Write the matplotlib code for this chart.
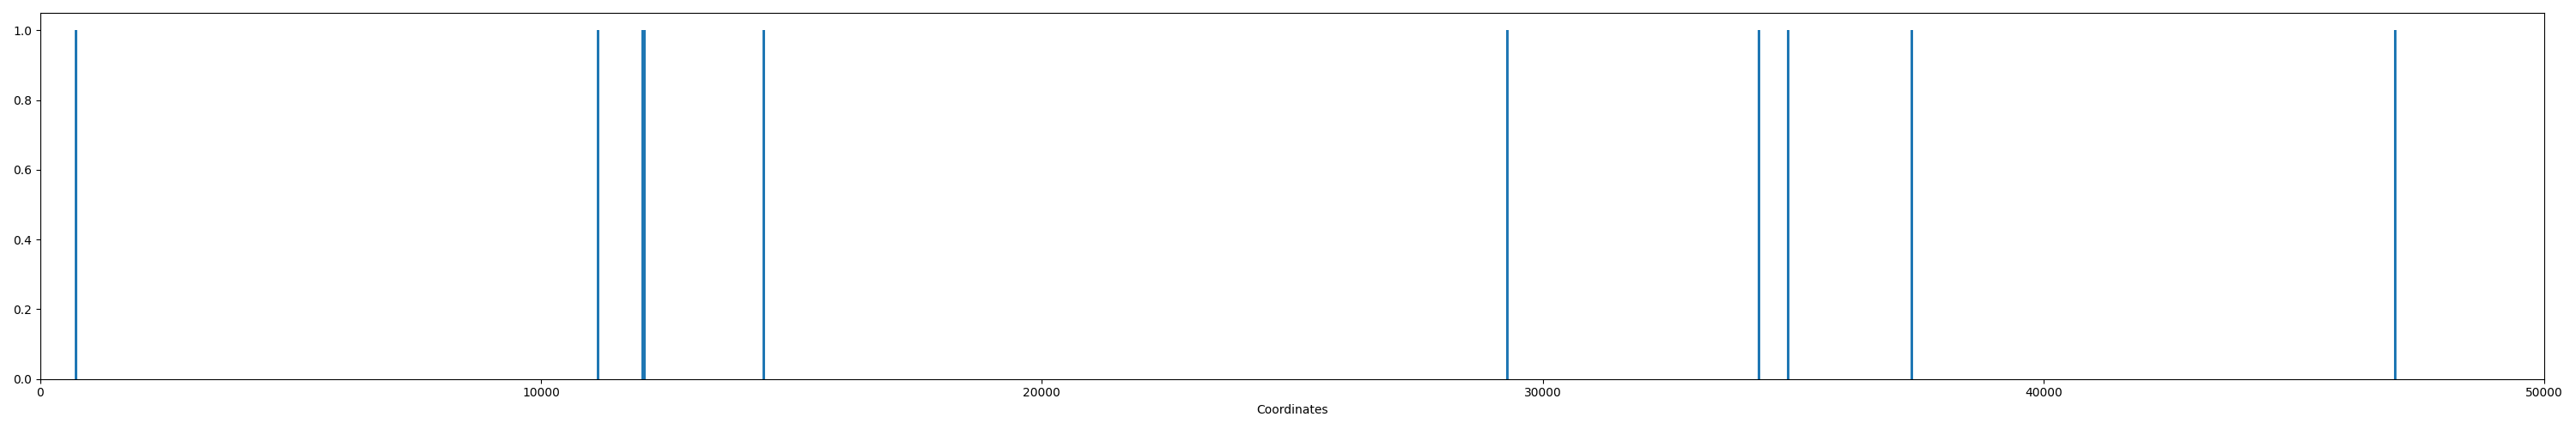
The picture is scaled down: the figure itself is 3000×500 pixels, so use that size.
import matplotlib
matplotlib.use("Agg")
import matplotlib.pyplot as plt

# positions of the hits along the sequence
coords = [710, 11140, 12025, 12075, 14455, 29300, 34320, 34900, 37370, 47025]
hits = [1, 1, 1, 1, 1, 1, 1, 1, 1, 1]

fig, ax = plt.subplots(figsize=(30, 5), dpi=100)
ax.bar(coords, hits, width=50)
ax.set_xlim(0, 50000)
ax.set_xlabel('Coordinates')
plt.tight_layout()
plt.savefig('out.png', dpi=100)
